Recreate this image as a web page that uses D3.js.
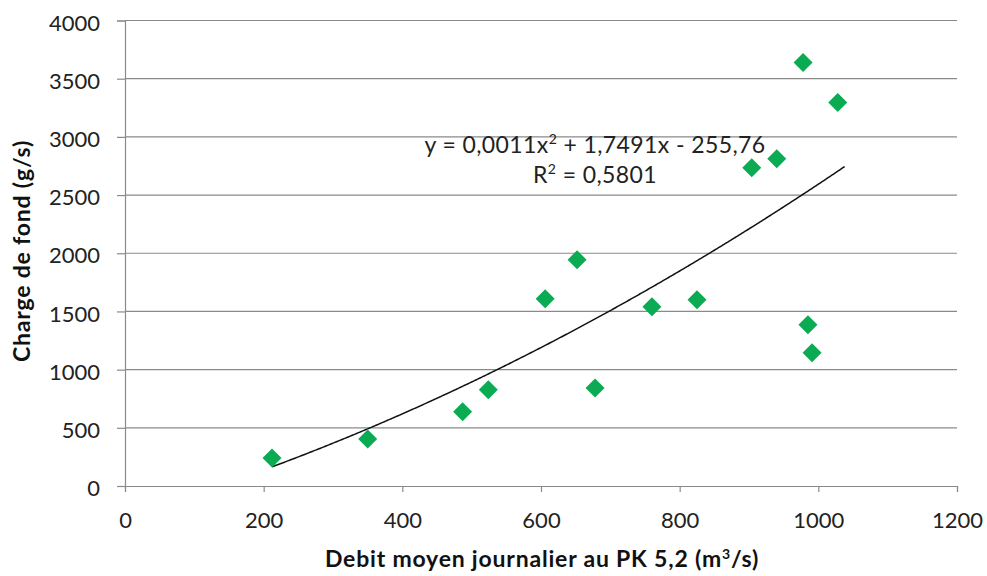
<!DOCTYPE html>
<html>
<head>
<meta charset="utf-8">
<script src="https://cdn.jsdelivr.net/npm/d3@7"></script>
<style>
  html, body { margin: 0; padding: 0; background: #fff; }
  svg { display: block; font-family: Lato, "Open Sans", sans-serif; }
</style>
</head>
<body>
<svg id="chart" width="987" height="576"></svg>
<script>
// Daily mean discharge at PK 5,2 (m³/s) and bedload (g/s)
const debit  = [212, 350, 487, 524, 606, 652, 678, 760, 825, 904, 940, 978, 1028, 985, 991];
const charge = [241, 404, 637, 826, 1609, 1944, 843, 1540, 1600, 2735, 2813, 3639, 3295, 1385, 1144];

// Second-order polynomial trendline: y = a x² + b x + c
const trendCoef = [0.0011, 1.7491, -255.76];
const trendRange = [212, 1038];
const r2 = 0.5801;

const xTicks = [0, 200, 400, 600, 800, 1000, 1200];
const yTicks = [0, 500, 1000, 1500, 2000, 2500, 3000, 3500, 4000];

const svg = d3.select("#chart");
const plotLeft = 125, plotRight = 957, plotTop = 20.5, plotBottom = 486;

const x = d3.scaleLinear().domain([0, 1200]).range([plotLeft, plotRight]);
const y = d3.scaleLinear().domain([0, 4000]).range([plotBottom, plotTop]);

const grey = "#8a8a8a";
const textColor = "#222";

// horizontal gridlines
svg.append("g")
  .selectAll("line")
  .data(yTicks.filter(d => d > 0))
  .join("line")
  .attr("x1", plotLeft).attr("x2", plotRight)
  .attr("y1", d => y(d)).attr("y2", d => y(d))
  .attr("stroke", grey).attr("stroke-width", 1.2);

// y axis
const yAxis = svg.append("g")
  .attr("transform", `translate(${plotLeft},0)`)
  .call(d3.axisLeft(y).tickValues(yTicks).tickSize(8).tickPadding(17).tickFormat(d3.format("d")));
yAxis.select(".domain").attr("stroke", grey).attr("stroke-width", 1.2);
yAxis.selectAll(".tick line").attr("stroke", grey).attr("stroke-width", 1.2);
yAxis.selectAll(".tick text")
  .attr("fill", textColor).attr("dy", "0.44em")
  .style("font-size", "22px").style("font-family", "Lato, 'Open Sans', sans-serif");

// x axis
const xAxis = svg.append("g")
  .attr("transform", `translate(0,${plotBottom})`)
  .call(d3.axisBottom(x).tickValues(xTicks).tickSize(6).tickPadding(20).tickFormat(d3.format("d")));
xAxis.select(".domain").attr("stroke", grey).attr("stroke-width", 1.2);
xAxis.selectAll(".tick line").attr("stroke", grey).attr("stroke-width", 1.2);
xAxis.selectAll(".tick text")
  .attr("fill", textColor)
  .style("font-size", "22px").style("font-family", "Lato, 'Open Sans', sans-serif");

// trendline
const trendX = d3.range(trendRange[0], trendRange[1] + 0.01, 2);
const poly = v => trendCoef[0] * v * v + trendCoef[1] * v + trendCoef[2];
svg.append("path")
  .datum(trendX)
  .attr("fill", "none")
  .attr("stroke", "#111")
  .attr("stroke-width", 1.5)
  .attr("d", d3.line().x(d => x(d)).y(d => y(poly(d))));

// data points
svg.append("g")
  .selectAll("path")
  .data(debit.map((d, i) => [d, charge[i]]))
  .join("path")
  .attr("transform", d => `translate(${x(d[0])},${y(d[1])})`)
  .attr("d", "M0,-9.5L9.5,0L0,9.5L-9.5,0Z")
  .attr("fill", "#0aab52");

// trendline equation
const fmt = v => String(v).replace(".", ",");
const eq = svg.append("text")
  .attr("x", 595).attr("y", 153)
  .attr("text-anchor", "middle")
  .attr("fill", textColor)
  .style("font-size", "23px").style("letter-spacing", "0.4px");
eq.append("tspan").text(`y = ${fmt(trendCoef[0])}x`);
eq.append("tspan").attr("dy", -9).style("font-size", "14px").text("2");
eq.append("tspan").attr("dy", 9).text(` + ${fmt(trendCoef[1])}x - ${fmt(-trendCoef[2])}`);

const rt = svg.append("text")
  .attr("x", 595).attr("y", 183)
  .attr("text-anchor", "middle")
  .attr("fill", textColor)
  .style("font-size", "23px").style("letter-spacing", "0.4px");
rt.append("tspan").text("R");
rt.append("tspan").attr("dy", -9).style("font-size", "14px").text("2");
rt.append("tspan").attr("dy", 9).text(` = ${fmt(r2)}`);

// axis titles
const xt = svg.append("text")
  .attr("x", 542).attr("y", 567)
  .attr("text-anchor", "middle")
  .attr("fill", "#111")
  .style("font-size", "23px").style("font-weight", "bold").style("letter-spacing", "0.8px");
xt.append("tspan").text("Debit moyen journalier au PK 5,2 (m");
xt.append("tspan").attr("dy", -8).style("font-size", "14px").text("3");
xt.append("tspan").attr("dy", 8).text("/s)");

svg.append("text")
  .attr("transform", "translate(30,251) rotate(-90)")
  .attr("text-anchor", "middle")
  .attr("fill", "#111")
  .style("font-size", "23px").style("font-weight", "bold").style("letter-spacing", "0.8px")
  .text("Charge de fond (g/s)");
</script>
</body>
</html>
